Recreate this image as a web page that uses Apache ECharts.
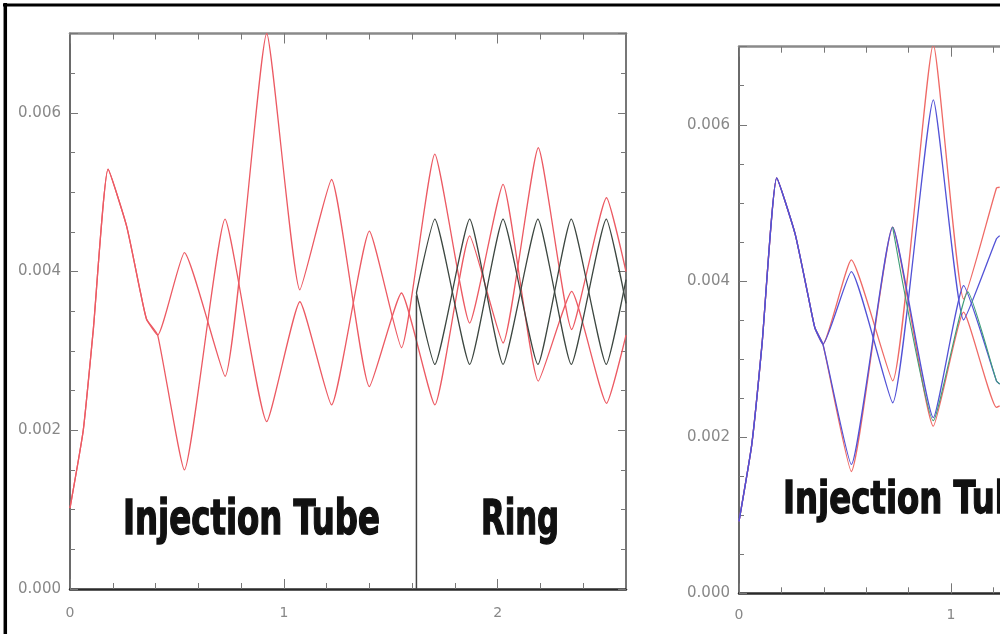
<!DOCTYPE html>
<html>
<head>
<meta charset="utf-8">
<script src="https://cdn.jsdelivr.net/npm/echarts@6/dist/echarts.min.js"></script>
<style>
html,body{margin:0;padding:0;background:#fff;}
#c{width:1000px;height:634px;}
</style>
</head>
<body>
<div id="c"></div>
<script>
// ---------------- data ----------------
// Left panel: injection tube + ring
const tubeX   = [0, 0.062, 0.109, 0.178, 0.265, 0.327, 0.358, 0.41, 0.535, 0.725, 0.92, 1.075, 1.223, 1.40, 1.55, 1.706, 1.869, 2.025, 2.19, 2.346, 2.509, 2.6];
const tubeRed1 = [0.00102, 0.00200, 0.00327, 0.00529, 0.00457, 0.00377, 0.00340, 0.00320, 0.00150, 0.00466, 0.00211, 0.00362, 0.00232, 0.00451, 0.00304, 0.00548, 0.00335, 0.00510, 0.00262, 0.00375, 0.00234, 0.00320];
const tubeRed2 = [0.00102, 0.00200, 0.00327, 0.00529, 0.00457, 0.00377, 0.00340, 0.00320, 0.00424, 0.00268, 0.00700, 0.00377, 0.00516, 0.00255, 0.00373, 0.00232, 0.00445, 0.00310, 0.00556, 0.00327, 0.00493, 0.00400];
const ringX     = [1.62, 1.706, 1.869, 2.025, 2.188, 2.344, 2.508, 2.6];
const ringDark1 = [0.00373, 0.00466, 0.00283, 0.00466, 0.00283, 0.00466, 0.00283, 0.00390];
const ringDark2 = [0.00373, 0.00283, 0.00466, 0.00283, 0.00466, 0.00283, 0.00466, 0.00360];
const boundaryX = [1.62, 1.62];
const boundaryY = [0, 0.0037];

// Right panel (cropped at the page edge)
const rightX     = [0, 0.06, 0.109, 0.178, 0.265, 0.327, 0.358, 0.396, 0.53, 0.725, 0.917, 1.06, 1.215, 1.23];
const rightRed1  = [0.00092, 0.00190, 0.00320, 0.00532, 0.00460, 0.00380, 0.00340, 0.00319, 0.00156, 0.00469, 0.00214, 0.00360, 0.00238, 0.00240];
const rightRed2  = [0.00092, 0.00190, 0.00320, 0.00532, 0.00460, 0.00380, 0.00340, 0.00319, 0.00427, 0.00272, 0.00703, 0.00377, 0.00519, 0.00520];
const rightBlue1 = [0.00092, 0.00190, 0.00320, 0.00532, 0.00460, 0.00380, 0.00340, 0.00319, 0.00165, 0.00469, 0.00225, 0.00394, 0.00272, 0.00268];
const rightBlue2 = [0.00092, 0.00190, 0.00320, 0.00532, 0.00460, 0.00380, 0.00340, 0.00319, 0.00412, 0.00244, 0.00632, 0.00350, 0.00454, 0.00458];
const greenX     = [0.725, 0.917, 1.08, 1.215, 1.23];
const rightGreen = [0.00469, 0.00221, 0.00386, 0.00272, 0.00268];

const xTickLabels = [0, 1, 2];
const yTickLabels = [0.000, 0.002, 0.004, 0.006];

const X_MIN = 0, X_MAX = 2.6, Y_MIN = 0, Y_MAX = 0.007;

// ---------------- helpers ----------------
const zip = (xs, ys) => xs.map((x, i) => [x, ys[i]]);
const near = (a, b) => Math.abs(a - b) < 1e-7;
const LABEL_FONT = 'DejaVu Sans, Verdana, sans-serif';

function xAxes(grid, margin) {
  const base = {gridIndex: grid, type: 'value', min: X_MIN, max: X_MAX, splitLine: {show: false}};
  const tickStyle = {color: '#777', width: 1};
  return [
    Object.assign({}, base, {position: 'bottom', interval: 0.2,
      axisLine: {show: true, onZero: false, lineStyle: {color: '#2a2a2a', width: 2.5}},
      axisTick: {show: true, inside: true, length: 6, lineStyle: tickStyle},
      axisLabel: {show: true, margin: margin, color: '#888', fontSize: 14, fontFamily: LABEL_FONT,
        showMaxLabel: false,
        formatter: v => (xTickLabels.some(t => near(t, v)) ? String(Math.round(v)) : '')}}),
    Object.assign({}, base, {position: 'bottom', interval: 1,
      axisLine: {show: false, onZero: false}, axisLabel: {show: false},
      axisTick: {show: true, inside: true, length: 10, lineStyle: tickStyle}}),
    Object.assign({}, base, {position: 'top', interval: 0.2,
      axisLine: {show: true, onZero: false, lineStyle: {color: '#8a8a8a', width: 2.5}}, axisLabel: {show: false},
      axisTick: {show: true, inside: true, length: 6, lineStyle: tickStyle}}),
    Object.assign({}, base, {position: 'top', interval: 1,
      axisLine: {show: false, onZero: false}, axisLabel: {show: false},
      axisTick: {show: true, inside: true, length: 10, lineStyle: tickStyle}})
  ];
}
function yAxes(grid) {
  const base = {gridIndex: grid, type: 'value', min: Y_MIN, max: Y_MAX, splitLine: {show: false}};
  const tickStyle = {color: '#777', width: 1};
  return [
    Object.assign({}, base, {position: 'left', interval: 0.0005,
      axisLine: {show: true, onZero: false, lineStyle: {color: '#6a6a6a', width: 2}},
      axisTick: {show: true, inside: true, length: 5, lineStyle: tickStyle},
      axisLabel: {show: true, margin: 9, color: '#888', fontSize: 15, fontFamily: LABEL_FONT,
        showMaxLabel: false,
        formatter: v => { const t = yTickLabels.find(t => near(t, v)); return t === undefined ? '' : t.toFixed(3); }}}),
    Object.assign({}, base, {position: 'left', interval: 0.002,
      axisLine: {show: false, onZero: false}, axisLabel: {show: false},
      axisTick: {show: true, inside: true, length: 8, lineStyle: tickStyle}}),
    Object.assign({}, base, {position: 'right', interval: 0.0005,
      axisLine: {show: true, onZero: false, lineStyle: {color: '#777', width: 2}}, axisLabel: {show: false},
      axisTick: {show: true, inside: true, length: 5, lineStyle: tickStyle}}),
    Object.assign({}, base, {position: 'right', interval: 0.002,
      axisLine: {show: false, onZero: false}, axisLabel: {show: false},
      axisTick: {show: true, inside: true, length: 8, lineStyle: tickStyle}})
  ];
}
function line(name, grid, xs, ys, color, width, smooth, z) {
  return {
    name, type: 'line', xAxisIndex: grid * 4, yAxisIndex: grid * 4,
    data: zip(xs, ys), showSymbol: false, symbol: 'none', smooth: smooth,
    lineStyle: {color, width}, z: z || 2, animation: false, silent: true
  };
}

// text sizing: measure to match the heavy condensed lettering
const FONT = 'bold 48px "Liberation Sans Narrow", "DejaVu Sans Condensed", "Roboto Condensed", "Liberation Sans", sans-serif';
const mctx = document.createElement('canvas').getContext('2d');
mctx.font = FONT;
const fit = (txt, w) => w / mctx.measureText(txt).width;

function label(txt, left, midY, targetW, sy) {
  return {
    type: 'text', x: left, y: midY, scaleX: fit(txt, targetW), scaleY: sy, z: 50,
    style: {text: txt, font: FONT, fill: '#111', stroke: '#111', lineWidth: 1.4, align: 'left', verticalAlign: 'middle'}
  };
}

const SM = 0.15;
const chart = echarts.init(document.getElementById('c'), null, {renderer: 'canvas'});
chart.setOption({
  backgroundColor: '#fff',
  animation: false,
  grid: [
    {left: 70, top: 33.5, width: 556, height: 555.5, containLabel: false, outerBoundsMode: 'none'},
    {left: 739, top: 46.7, width: 551, height: 546.6, containLabel: false, outerBoundsMode: 'none'}
  ],
  xAxis: xAxes(0, 17).concat(xAxes(1, 15)),
  yAxis: yAxes(0).concat(yAxes(1)),
  series: [
    line('tube red 1', 0, tubeX, tubeRed1, '#ec5a63', 1.3, SM),
    line('tube red 2', 0, tubeX, tubeRed2, '#ec5a63', 1.3, SM),
    line('ring 1', 0, ringX, ringDark1, '#3d4741', 1.3, SM, 3),
    line('ring 2', 0, ringX, ringDark2, '#3d4741', 1.3, SM, 3),
    line('boundary', 0, boundaryX, boundaryY, '#444', 1.5, false, 4),
    line('right red 1', 1, rightX, rightRed1, '#ef6a66', 1.3, SM),
    line('right red 2', 1, rightX, rightRed2, '#ef6a66', 1.3, SM),
    line('right blue 1', 1, rightX, rightBlue1, '#5252d6', 1.3, SM, 3),
    line('right blue 2', 1, rightX, rightBlue2, '#5252d6', 1.3, SM, 3),
    line('right green', 1, greenX, rightGreen, '#3f9f78', 1.1, SM, 4)
  ],
  graphic: [
    {type: 'line', shape: {x1: 3, y1: 5, x2: 1000, y2: 5}, style: {stroke: '#000', lineWidth: 3}, z: 60},
    {type: 'line', shape: {x1: 5.3, y1: 3, x2: 5.3, y2: 634}, style: {stroke: '#000', lineWidth: 3.5}, z: 60},
    label('Injection Tube', 123, 522, 257, 1),
    label('Ring', 481, 522, 78, 1),
    label('Injection Tube', 783, 501, 257, 0.93)
  ]
});
</script>
</body>
</html>
